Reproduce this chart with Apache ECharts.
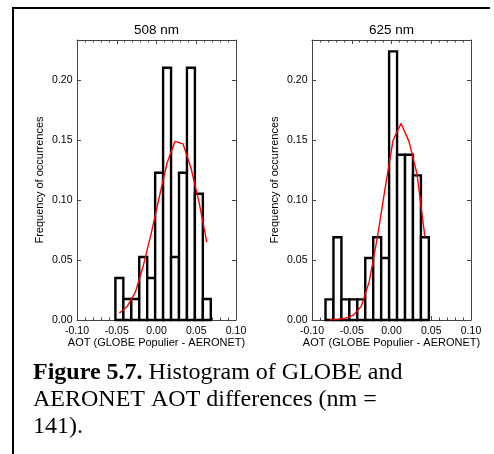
<!DOCTYPE html>
<html><head><meta charset="utf-8">
<script src="https://cdn.jsdelivr.net/npm/echarts@6/dist/echarts.min.js"></script>
<style>html,body{margin:0;padding:0;background:#fff}#c{width:494px;height:454px}</style>
</head><body><div id="c"></div><script>
// ---- data ----
const panelTitles = ['508 nm', '625 nm'];
const xAxisName = 'AOT (GLOBE Populier - AERONET)';
const yAxisName = 'Frequency of occurrences';
const captionBold = 'Figure 5.7.';
const captionLines = [' Histogram of GLOBE and', 'AERONET AOT differences (nm =', '141).'];

// 508 nm histogram: bin edges and frequencies
const edges508 = [-0.0517, -0.0417, -0.0317, -0.0217, -0.0117, -0.0017, 0.0083, 0.0183, 0.0283, 0.0383, 0.0483, 0.0583, 0.0683];
const freq508 = [0.0351, 0.0175, 0.0175, 0.0526, 0.0351, 0.1228, 0.2105, 0.0526, 0.1228, 0.2105, 0.1053, 0.0175];
// 508 nm gaussian fit (at bin centres)
const fitX508 = [-0.0467, -0.0367, -0.0267, -0.0167, -0.0067, 0.0033, 0.0133, 0.0233, 0.0333, 0.0433, 0.0533, 0.0633];
const fitY508 = [0.0056, 0.0115, 0.023, 0.045, 0.072, 0.102, 0.131, 0.149, 0.147, 0.127, 0.099, 0.065];

// 625 nm histogram
const edges625 = [-0.083, -0.073, -0.063, -0.053, -0.043, -0.033, -0.023, -0.013, -0.003, 0.007, 0.017, 0.027, 0.037, 0.047];
const freq625 = [0.0172, 0.069, 0.0172, 0.0172, 0.0172, 0.0517, 0.069, 0.0517, 0.2241, 0.1379, 0.1379, 0.1207, 0.069];
const fitX625 = [-0.078, -0.068, -0.058, -0.048, -0.038, -0.028, -0.018, -0.008, 0.002, 0.012, 0.022, 0.032, 0.042];
const fitY625 = [0.0001, 0.0005, 0.0015, 0.004, 0.0115, 0.032, 0.068, 0.110, 0.150, 0.164, 0.149, 0.122, 0.0695];

const xMin = -0.10, xMax = 0.10, xStep = 0.05;
const yMin = 0, yMax = 0.2336, yStep = 0.05;

// ---- chart ----
const FONT = "'Liberation Sans', Arial, sans-serif";
const AX = '#444';
const chart = echarts.init(document.getElementById('c'), null, {renderer: 'canvas'});

function fmt(v) {
  if (Math.abs(v / xStep - Math.round(v / xStep)) > 1e-6) return '';
  return Math.abs(v) < 1e-9 ? '0.00' : v.toFixed(2);
}
function yfmt(v) {
  if (Math.abs(v / yStep - Math.round(v / yStep)) > 1e-6) return '';
  return Math.abs(v) < 1e-9 ? '0.00' : v.toFixed(2);
}

const grids = [
  {left: 77, top: 40, width: 159, height: 280},
  {left: 312, top: 40, width: 159, height: 280}
];
const xAxes = [], yAxes = [];
grids.forEach((g, i) => {
  ['bottom', 'top'].forEach(pos => {
    xAxes.push({
      type: 'value', gridIndex: i, position: pos, min: xMin, max: xMax, interval: xStep,
      axisLine: {show: true, onZero: false, lineStyle: {color: AX, width: 1}},
      axisTick: {show: true, inside: true, length: 4, lineStyle: {color: AX}},
      minorTick: {show: true, splitNumber: 5, length: 2.5, lineStyle: {color: AX}},
      splitLine: {show: false},
      axisLabel: {show: pos === 'bottom', margin: 6, color: '#000', fontSize: 10.5, fontFamily: FONT, formatter: fmt,
        showMinLabel: true, showMaxLabel: true}
    });
  });
  ['left', 'right'].forEach(pos => {
    yAxes.push({
      type: 'value', gridIndex: i, position: pos, min: yMin, max: yMax, interval: yStep,
      axisLine: {show: true, onZero: false, lineStyle: {color: AX, width: 1}},
      axisTick: {show: true, inside: true, length: 4, lineStyle: {color: AX}},
      splitLine: {show: false},
      axisLabel: {show: pos === 'left', margin: 4.5, color: '#000', fontSize: 10.5, fontFamily: FONT, formatter: yfmt}
    });
  });
});

function histData(edges, freq) {
  return freq.map((f, k) => [edges[k], edges[k + 1], f]);
}
function histSeries(edges, freq, gi) {
  return {
    type: 'custom', xAxisIndex: gi * 2, yAxisIndex: gi * 2,
    data: histData(edges, freq),
    encode: {x: [0, 1], y: 2},
    renderItem: function (params, api) {
      const p0 = api.coord([api.value(0), api.value(2)]);
      const p1 = api.coord([api.value(1), 0]);
      return {
        type: 'rect',
        shape: {x: p0[0], y: p0[1], width: p1[0] - p0[0], height: p1[1] - p0[1]},
        style: {fill: '#fff', stroke: '#000', lineWidth: 2.4}
      };
    },
    z: 2
  };
}
function fitSeries(xs, ys, gi) {
  return {
    type: 'line', xAxisIndex: gi * 2, yAxisIndex: gi * 2,
    data: xs.map((x, k) => [x, ys[k]]),
    showSymbol: false, symbol: 'none', smooth: false,
    lineStyle: {color: '#ff0000', width: 1.4},
    z: 5
  };
}

const graphic = [
  {type: 'line', shape: {x1: 13, y1: 8, x2: 13, y2: 454}, style: {stroke: '#000', lineWidth: 2}},
  {type: 'line', shape: {x1: 12, y1: 8, x2: 490, y2: 8}, style: {stroke: '#000', lineWidth: 2}}
];
grids.forEach((g, i) => {
  const cx = g.left + g.width / 2;
  graphic.push({type: 'text', x: cx, y: 30, style: {text: panelTitles[i], fontSize: 13.5, fontFamily: FONT, fill: '#000', textAlign: 'center', textVerticalAlign: 'middle'}});
  graphic.push({type: 'text', x: cx, y: 343, style: {text: xAxisName, fontSize: 11, fontFamily: FONT, fill: '#000', textAlign: 'center', textVerticalAlign: 'middle'}});
  graphic.push({type: 'text', x: g.left - 37, y: g.top + g.height / 2, rotation: Math.PI / 2,
    style: {text: yAxisName, fontSize: 11, fontFamily: FONT, fill: '#000', textAlign: 'center', textVerticalAlign: 'middle'}});
});
const SERIF = "'Liberation Serif', 'Times New Roman', serif";
graphic.push({type: 'text', x: 33, y: 373, style: {
  text: '{b|' + captionBold + '}' + captionLines[0],
  rich: {b: {fontWeight: 'bold', fontSize: 24, fontFamily: SERIF, fill: '#000'}},
  fontSize: 24, fontFamily: SERIF, fill: '#000', textVerticalAlign: 'middle'}});
graphic.push({type: 'text', x: 33, y: 400, style: {text: captionLines[1], fontSize: 24, fontFamily: SERIF, fill: '#000', textVerticalAlign: 'middle'}});
graphic.push({type: 'text', x: 33, y: 427, style: {text: captionLines[2], fontSize: 24, fontFamily: SERIF, fill: '#000', textVerticalAlign: 'middle'}});

chart.setOption({
  animation: false,
  backgroundColor: '#fff',
  grid: grids,
  xAxis: xAxes,
  yAxis: yAxes,
  series: [
    histSeries(edges508, freq508, 0), fitSeries(fitX508, fitY508, 0),
    histSeries(edges625, freq625, 1), fitSeries(fitX625, fitY625, 1)
  ],
  graphic: graphic
});
</script></body></html>
